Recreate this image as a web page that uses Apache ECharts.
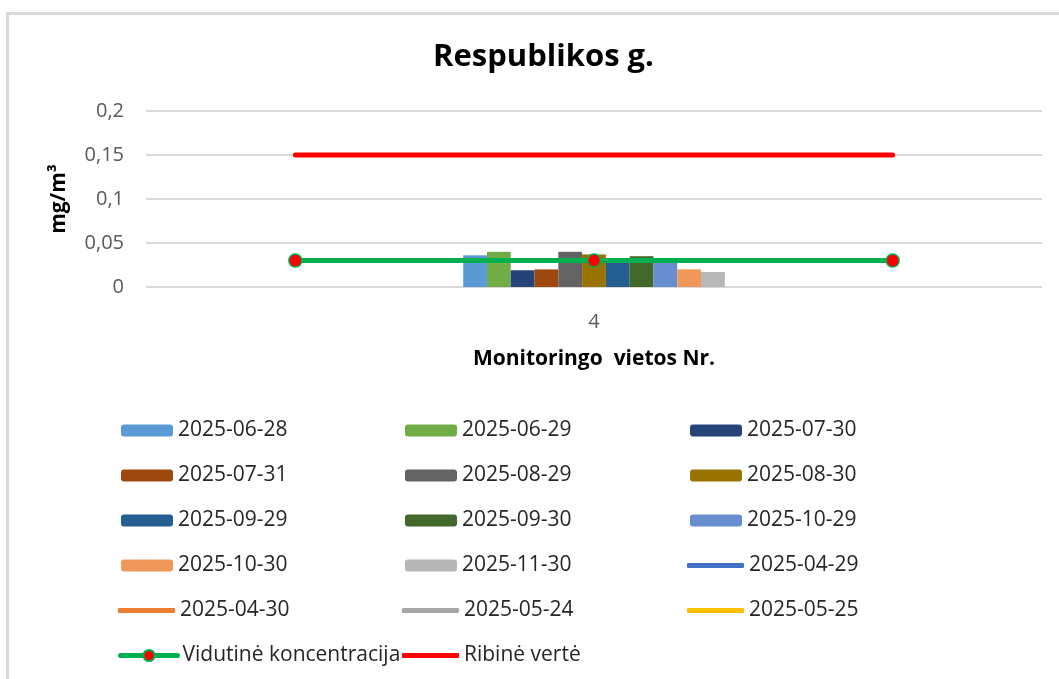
<!DOCTYPE html>
<html>
<head>
<meta charset="utf-8">
<script src="https://cdn.jsdelivr.net/npm/echarts@6/dist/echarts.min.js"></script>
<style>
  html, body { margin: 0; padding: 0; background: #fff; }
  #chart { width: 1059px; height: 679px; }
</style>
</head>
<body>
<div id="chart"></div>
<script>
  // kategorija (monitoringo vieta)
  const categories = ['4'];
  // stulpeliai - matavimu datos ir vertes
  const barDates = ['2025-06-28', '2025-06-29', '2025-07-30', '2025-07-31', '2025-08-29', '2025-08-30',
                    '2025-09-29', '2025-09-30', '2025-10-29', '2025-10-30', '2025-11-30'];
  const barValues = [0.036, 0.040, 0.019, 0.020, 0.040, 0.037, 0.029, 0.035, 0.028, 0.020, 0.017];
  const barColors = ['#5b9bd5', '#70ad47', '#264478', '#9e480e', '#636363', '#997300',
                     '#255e91', '#43682b', '#698ed0', '#f1975a', '#b7b7b7'];
  // tuscios linijos (tik legendoje)
  const emptyDates = ['2025-04-29', '2025-04-30', '2025-05-24', '2025-05-25'];
  const emptyColors = ['#4472c4', '#ed7d31', '#a5a5a5', '#ffc000'];
  // horizontalios linijos
  const lineCategories = ['1', '2', '3'];
  const avgName = 'Vidutinė koncentracija';
  const avgValues = [0.03, 0.03, 0.03];
  const limitName = 'Ribinė vertė';
  const limitValues = [0.15, 0.15, 0.15];
  const yTicks = [0, 0.05, 0.1, 0.15, 0.2];

  const font = 'Open Sans';
  let myChart = echarts.init(document.getElementById('chart'));

  let series = [];
  barDates.forEach(function (d, i) {
    series.push({
      name: d,
      type: 'bar',
      xAxisIndex: 0,
      barGap: '0%',
      barCategoryGap: '70.8%',
      itemStyle: { color: barColors[i] },
      data: [barValues[i]]
    });
  });
  emptyDates.forEach(function (d, i) {
    series.push({
      name: d,
      type: 'line',
      xAxisIndex: 1,
      symbol: 'none',
      itemStyle: { color: emptyColors[i] },
      lineStyle: { color: emptyColors[i], width: 5, cap: 'round' },
      data: []
    });
  });
  series.push({
    name: avgName,
    type: 'line',
    xAxisIndex: 1,
    symbol: 'circle',
    symbolSize: 13,
    itemStyle: { color: '#ff0000', borderColor: '#00b050', borderWidth: 1.5 },
    lineStyle: { color: '#00b050', width: 5, cap: 'round' },
    z: 5,
    data: avgValues
  });
  series.push({
    name: limitName,
    type: 'line',
    xAxisIndex: 1,
    symbol: 'none',
    itemStyle: { color: '#ff0000' },
    lineStyle: { color: '#ff0000', width: 5, cap: 'round' },
    z: 5,
    data: limitValues
  });

  // legendos: po viena elementa, 3 stulpeliai
  const legendNames = barDates.concat(emptyDates, [avgName, limitName]);
  const colX = [121, 405, 690];
  const rowY = [428, 473, 518, 563, 608, 653];
  let legends = legendNames.map(function (name, i) {
    const col = i % 3, row = Math.floor(i / 3);
    const isBar = i < barDates.length;
    let item = { name: name };
    if (!isBar && name !== avgName) item.icon = 'roundRect';
    return {
      data: [item],
      left: isBar ? colX[col] : colX[col] - 3,
      top: rowY[row] - 8,
      padding: 0,
      itemWidth: isBar ? 52 : 57,
      itemHeight: isBar ? 12 : (name === avgName ? 14 : 5),
      selectedMode: false,
      lineStyle: { width: 5, cap: 'round' },
      textStyle: { fontFamily: font, fontSize: 21, color: '#262626' }
    };
  });

  let option = {
    animation: false,
    backgroundColor: '#fff',
    title: {
      text: 'Respublikos g.',
      left: 428,
      top: 37,
      textStyle: { fontFamily: font, fontSize: 31, fontWeight: 'bold', color: '#000' }
    },
    graphic: [{
      type: 'rect',
      shape: { x: 7.5, y: 13.5, width: 1080, height: 700 },
      style: { fill: 'none', stroke: '#d9d9d9', lineWidth: 3 },
      silent: true
    }],
    legend: legends,
    grid: { left: 146, right: 17, top: 111, bottom: 392 },
    xAxis: [{
      type: 'category',
      data: categories,
      name: 'Monitoringo  vietos Nr.',
      nameLocation: 'middle',
      nameGap: 62,
      nameTextStyle: { fontFamily: font, fontSize: 21, fontWeight: 'bold', color: '#000' },
      axisLine: { show: false },
      axisTick: { show: false },
      axisLabel: { fontFamily: font, fontSize: 20, color: '#595959', margin: 25 }
    }, {
      type: 'category',
      data: lineCategories,
      position: 'bottom',
      show: false
    }],
    yAxis: {
      type: 'value',
      min: 0,
      max: 0.2,
      interval: 0.05,
      name: 'mg/m³',
      nameLocation: 'middle',
      nameRotate: 90,
      nameGap: 76,
      nameTextStyle: { fontFamily: font, fontSize: 21, fontWeight: 'bold', color: '#000' },
      axisLine: { show: false },
      axisTick: { show: false },
      splitLine: { lineStyle: { color: '#d9d9d9', width: 2 } },
      axisLabel: {
        fontFamily: font, fontSize: 20, color: '#595959', margin: 22,
        formatter: function (v) {
          return yTicks.indexOf(v) >= 0 ? String(v).replace('.', ',') : '';
        }
      }
    },
    series: series
  };
  myChart.setOption(option);
</script>
</body>
</html>
